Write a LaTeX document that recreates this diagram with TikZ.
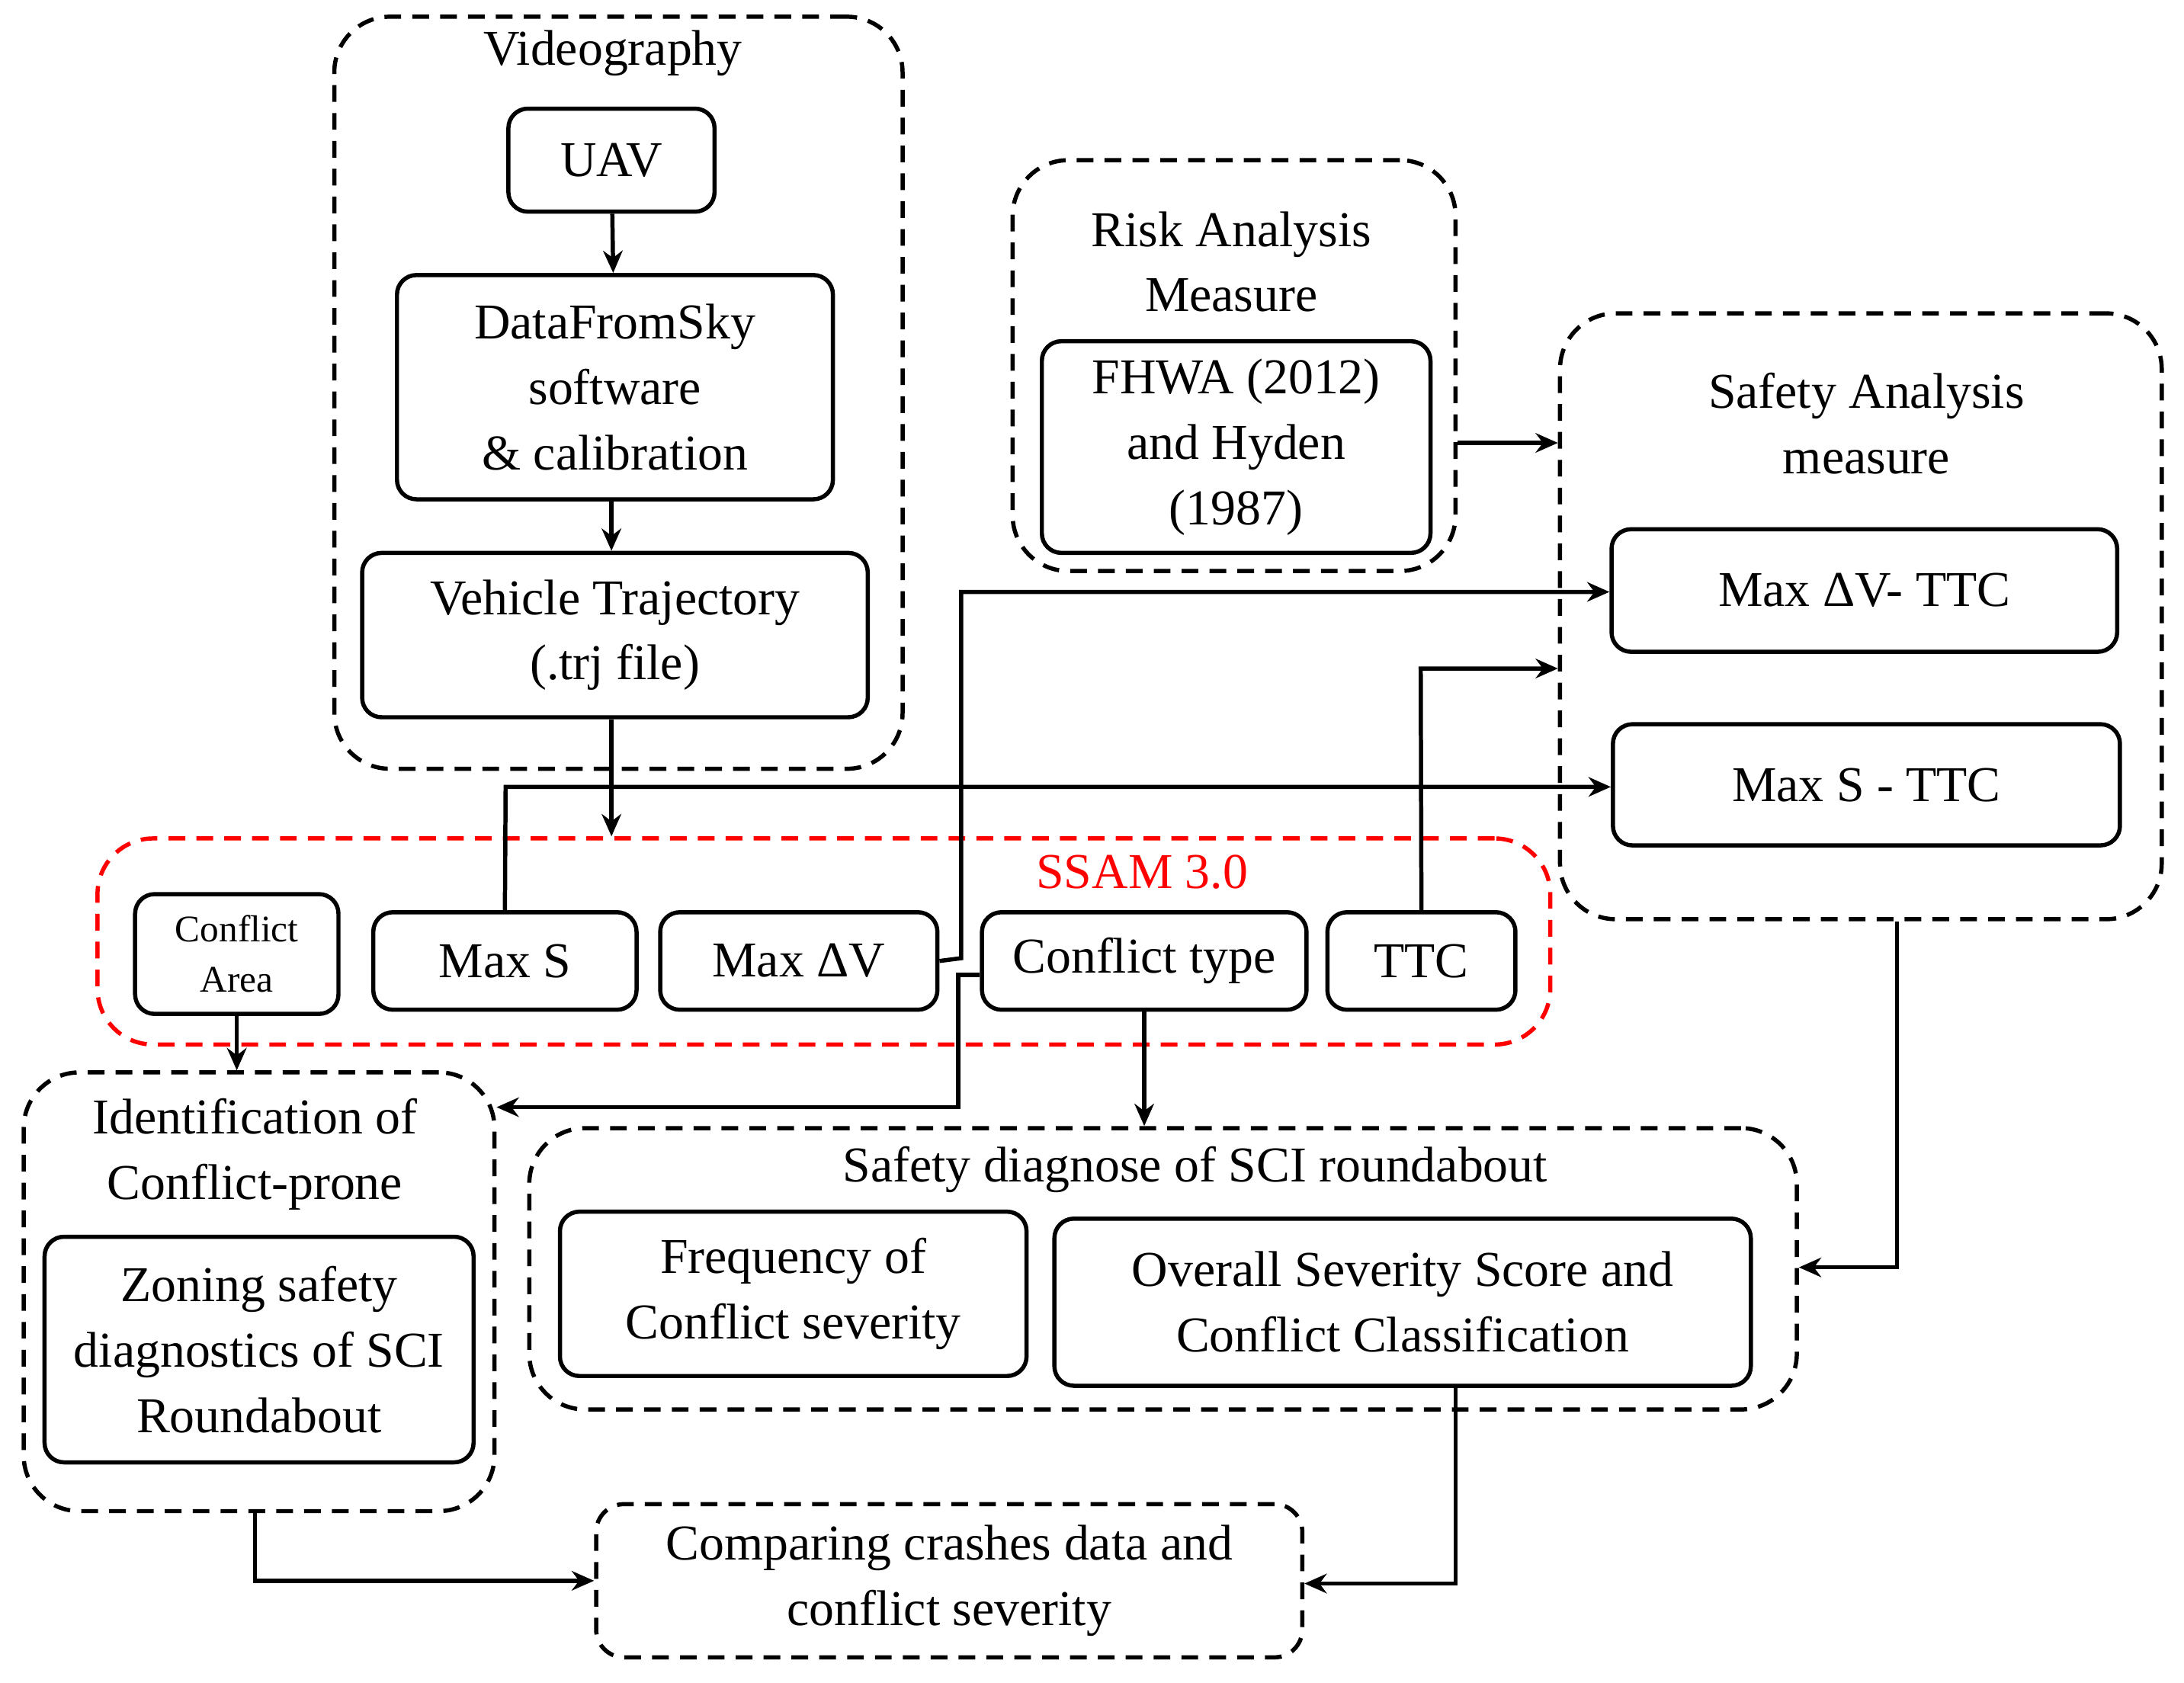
\documentclass[tikz,border=0pt]{standalone}
\usepackage{fontspec}
\setmainfont{Liberation Serif}
\usetikzlibrary{arrows.meta}
\begin{document}
\begin{tikzpicture}[x=0.5pt,y=-0.5pt,
  box/.style={draw,line width=1.5pt,rounded corners=7pt,align=center,inner sep=0pt,font=\fontsize{18}{23.5}\selectfont},
  dbox/.style={draw,line width=1.5pt,rounded corners=20pt,dash pattern=on 6pt off 4pt,inner sep=0pt},
  lbl/.style={align=center,font=\fontsize{18}{23.5}\selectfont},
  arr/.style={line width=1.5pt,-{Stealth[length=8pt,width=7pt]}},
  ln/.style={line width=1.5pt}]
\useasboundingbox (0,0) rectangle (1568,1208);
\node[dbox,minimum width=204pt,minimum height=270pt] (video) at (444,282) {};
\node[lbl] (videot) at (440,38) {Videography};
\node[box,minimum width=74pt,minimum height=37pt] (uav) at (439,115) {UAV};
\node[box,minimum width=156.5pt,minimum height=80.5pt] (dfs) at (441.5,278) {DataFromSky\\software\\\& calibration};
\node[box,minimum width=181.5pt,minimum height=59pt] (vt) at (441.5,456) {Vehicle Trajectory\\(.trj file)};
\node[dbox,minimum width=159pt,minimum height=147.5pt] (risk) at (886,262.5) {};
\node[lbl] (riskt) at (884,188) {Risk Analysis\\Measure};
\node[box,minimum width=139.5pt,minimum height=76pt] (fhwa) at (887.5,321) {FHWA (2012)\\and Hyden\\(1987)};
\node[dbox,minimum width=216pt,minimum height=217.5pt] (safe) at (1336,442.5) {};
\node[lbl] (safet) at (1340,304) {Safety Analysis\\measure};
\node[box,minimum width=181.5pt,minimum height=44pt] (mdttc) at (1338.5,424) {Max ΔV- TTC};
\node[box,minimum width=182pt,minimum height=43.5pt] (msttc) at (1340,563.5) {Max S - TTC};
\node[dbox,draw=red,minimum width=521.5pt,minimum height=74pt] (ssam) at (591.5,676) {};
\node[lbl,text=red] (ssamt) at (820,626) {SSAM 3.0};
\node[box,minimum width=73pt,minimum height=43pt,font=\fontsize{13.5}{18}\selectfont] (ca) at (170,685) {Conflict\\Area};
\node[box,minimum width=94.5pt,minimum height=35pt] (maxs) at (362.5,690) {Max S};
\node[box,minimum width=99.5pt,minimum height=35pt] (maxdv) at (573.5,690) {Max ΔV};
\node[box,minimum width=116.5pt,minimum height=35pt] (ct) at (821.5,690) {Conflict type};
\node[box,minimum width=67.5pt,minimum height=35pt] (ttc) at (1020.5,690) {TTC};
\node[dbox,minimum width=169pt,minimum height=157.5pt] (ident) at (186,927.5) {};
\node[lbl] (identt) at (183,829) {Identification of\\Conflict-prone};
\node[box,minimum width=154pt,minimum height=81pt] (zon) at (186,969) {Zoning safety\\diagnostics of SCI\\Roundabout};
\node[dbox,minimum width=455pt,minimum height=101pt] (sd) at (835,911) {};
\node[lbl] (sdt) at (858,840) {Safety diagnose of SCI roundabout};
\node[box,minimum width=167.5pt,minimum height=59pt] (freq) at (569.5,929) {Frequency of\\Conflict severity};
\node[box,minimum width=250pt,minimum height=60pt] (over) at (1007,935) {Overall Severity Score and\\Conflict Classification};
\node[dbox,minimum width=253.5pt,minimum height=55pt,rounded corners=10pt] (comp) at (681.5,1135) {};
\node[lbl] (compt) at (681.5,1135) {Comparing crashes data and\\conflict severity};
\draw[arr] (uav) -- (dfs);
\draw[arr] (dfs.south -| uav) -- (vt.north -| uav);
\draw[arr] (vt.south -| uav) -- (uav |- ssam.north);
\draw[arr] (risk.east |- 0,318) -- (safe.west |- 0,318);
\draw[arr] (maxdv.east) -- (690,688) -- (690,425) -- (mdttc.west |- 0,425);
\draw[arr] (ttc.north) -- (1020,480) -- (safe.west |- 0,480);
\draw[arr] (maxs.north) -- (363,565) -- (msttc.west |- 0,565);
\draw[arr] (ct.west |- 0,700) -- (688,700) -- (688,795) -- (ident.east |- 0,795);
\draw[arr] (ct.south) -- (ct.south |- sd.north);
\draw[arr] (ca.south) -- (ca.south |- ident.north);
\draw[arr] (safe.south -| 1362,0) -- (1362,910) -- (sd.east |- 0,910);
\draw[arr] (over.south -| 1045,0) -- (1045,1137) -- (comp.east |- 0,1137);
\draw[arr] (ident.south -| 183,0) -- (183,1135) -- (comp.west |- 0,1135);
\end{tikzpicture}
\end{document}
